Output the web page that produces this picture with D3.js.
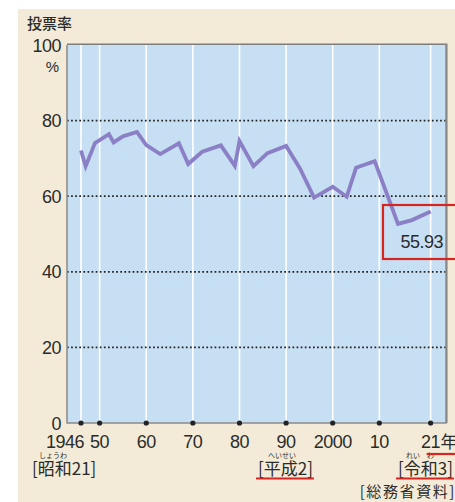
<!DOCTYPE html>
<html>
<head>
<meta charset="utf-8">
<script src="https://cdn.jsdelivr.net/npm/d3@7"></script>
<style>
  body { margin: 0; background: #fff; }
  svg text { font-family: "Liberation Sans", Arial, sans-serif; fill: #2b2b2b; }
  .jp { font-family: "Noto Sans CJK JP", sans-serif; }
</style>
</head>
<body>
<div id="chart"></div>
<script>
// 衆議院議員総選挙 投票率
var years = [1946, 1947, 1949, 1952, 1953, 1955, 1958, 1960, 1963, 1967, 1969, 1972,
             1976, 1979, 1980, 1983, 1986, 1990, 1993, 1996, 2000, 2003, 2005, 2009,
             2012, 2014, 2017, 2021];
var turnout = [72.08, 67.95, 74.04, 76.43, 74.22, 75.84, 76.99, 73.51, 71.14, 73.99, 68.51, 71.76,
               73.45, 68.01, 74.57, 67.94, 71.40, 73.31, 67.26, 59.65, 62.49, 59.86, 67.51, 69.28,
               59.32, 52.66, 53.68, 55.93];
var xTicks = [1946, 1950, 1960, 1970, 1980, 1990, 2000, 2010, 2021];
var xTickLabels = ["1946", "50", "60", "70", "80", "90", "2000", "10", "21"];
var yTicks = [0, 20, 40, 60, 80, 100];

var width = 455, height = 502;
var plot = {left: 67, right: 446, top: 45, bottom: 423};

var svg = d3.select("#chart").append("svg")
    .attr("width", width)
    .attr("height", height);

svg.append("rect")
    .attr("x", 18).attr("y", 9)
    .attr("width", width - 18).attr("height", height - 9)
    .attr("fill", "#f3ebd8");

var x = d3.scaleLinear().domain([1943, 2024.3]).range([plot.left, plot.right]);
var y = d3.scaleLinear().domain([0, 100]).range([plot.bottom, plot.top]);

// plot area with a soft shadow on top and right
svg.append("rect")
    .attr("x", plot.left).attr("y", plot.top - 1.5)
    .attr("width", plot.right - plot.left + 1.5).attr("height", plot.bottom - plot.top + 1.5)
    .attr("fill", "#7d7d7d");
svg.append("rect")
    .attr("x", plot.left).attr("y", plot.top)
    .attr("width", plot.right - plot.left).attr("height", plot.bottom - plot.top)
    .attr("fill", "#c7dff3");

// vertical white lines
svg.selectAll(".vgrid")
    .data(xTicks)
    .enter().append("line")
    .attr("x1", function(d) { return x(d); })
    .attr("x2", function(d) { return x(d); })
    .attr("y1", plot.top)
    .attr("y2", plot.bottom)
    .attr("stroke", "#fff")
    .attr("stroke-width", 1.6);

// dotted horizontal lines
svg.selectAll(".hgrid")
    .data(yTicks.filter(function(d) { return d > 0 && d < 100; }))
    .enter().append("line")
    .attr("x1", plot.left)
    .attr("x2", plot.right)
    .attr("y1", function(d) { return y(d); })
    .attr("y2", function(d) { return y(d); })
    .attr("stroke", "#222")
    .attr("stroke-width", 1.7)
    .attr("stroke-dasharray", "1.7,2.4");

// left and bottom frame
svg.append("path")
    .attr("d", "M" + plot.left + "," + plot.top + "V" + plot.bottom + "H" + plot.right + "V" + (plot.top - 1))
    .attr("fill", "none")
    .attr("stroke", "#8a8a8a")
    .attr("stroke-width", 1.5);

// tick dots
svg.selectAll(".tickdot")
    .data(xTicks)
    .enter().append("circle")
    .attr("cx", function(d) { return x(d); })
    .attr("cy", plot.bottom)
    .attr("r", 2.6)
    .attr("fill", "#222");

// turnout line
var line = d3.line()
    .x(function(d, i) { return x(years[i]); })
    .y(function(d) { return y(d); });

svg.append("path")
    .datum(turnout)
    .attr("d", line)
    .attr("fill", "none")
    .attr("stroke", "#8b80c6")
    .attr("stroke-width", 3.8)
    .attr("stroke-linejoin", "miter");

// y labels
svg.selectAll(".ylab")
    .data(yTicks)
    .enter().append("text")
    .attr("x", 61)
    .attr("y", function(d) { return y(d) + 6.5; })
    .attr("text-anchor", "end")
    .style("font-size", "18px")
    .style("letter-spacing", "-0.5px")
    .text(function(d) { return d; });

svg.append("text")
    .attr("x", 59).attr("y", 72)
    .attr("text-anchor", "end")
    .style("font-size", "15px")
    .text("%");

svg.append("text")
    .attr("class", "jp")
    .attr("x", 27).attr("y", 29)
    .style("font-size", "15px")
    .style("font-weight", "500")
    .text("投票率");

// x labels
svg.selectAll(".xlab")
    .data(xTicks)
    .enter().append("text")
    .attr("x", function(d, i) { return i === 0 ? x(d) + 3 : x(d); })
    .attr("y", 447.5)
    .attr("text-anchor", function(d, i) { return i === 0 ? "end" : "middle"; })
    .style("font-size", "18px")
    .style("letter-spacing", "-0.5px")
    .text(function(d, i) { return xTickLabels[i]; });

svg.append("text")
    .attr("class", "jp")
    .attr("x", x(2021) + 10).attr("y", 447.5)
    .style("font-size", "17px")
    .text("年");

// era labels with furigana
var eras = [
  {x: 32, ruby: "しょうわ", rx: 39, text: "[昭和21]", line: false},
  {x: 258, ruby: "へいせい", rx: 268, text: "[平成2]", line: true},
  {x: 398, ruby: "れい　わ", rx: 406, text: "[令和3]", line: true}
];
eras.forEach(function(e) {
  var t = svg.append("text")
      .attr("class", "jp")
      .attr("x", e.x).attr("y", 474.5)
      .style("font-size", "17px")
      .text(e.text);
  svg.append("text")
      .attr("class", "jp")
      .attr("x", e.rx).attr("y", 457.5)
      .style("font-size", "7px")
      .text(e.ruby);
  if (e.line) {
    var w = t.node().getComputedTextLength();
    svg.append("line")
        .attr("x1", e.x - 2).attr("x2", e.x + w + 1)
        .attr("y1", 478.5).attr("y2", 478.5)
        .attr("stroke", "#d7261f").attr("stroke-width", 2.2);
  }
});

// underline under 21年
svg.append("line")
    .attr("x1", x(2021) - 4).attr("x2", width + 2)
    .attr("y1", 454).attr("y2", 454)
    .attr("stroke", "#d7261f").attr("stroke-width", 2.2);

svg.append("text")
    .attr("class", "jp")
    .attr("x", 456).attr("y", 497)
    .attr("text-anchor", "end")
    .style("font-size", "15px")
    .style("letter-spacing", "1.6px")
    .text("[総務省資料]");

// highlight box for latest value
var last = turnout.length - 1;
svg.append("rect")
    .attr("x", 383).attr("y", 205)
    .attr("width", 80).attr("height", 54)
    .attr("fill", "none")
    .attr("stroke", "#d7261f")
    .attr("stroke-width", 2.2);

svg.append("text")
    .attr("x", 443).attr("y", 248)
    .attr("text-anchor", "end")
    .style("font-size", "18px")
    .style("letter-spacing", "-0.5px")
    .text(turnout[last].toFixed(2));
</script>
</body>
</html>
